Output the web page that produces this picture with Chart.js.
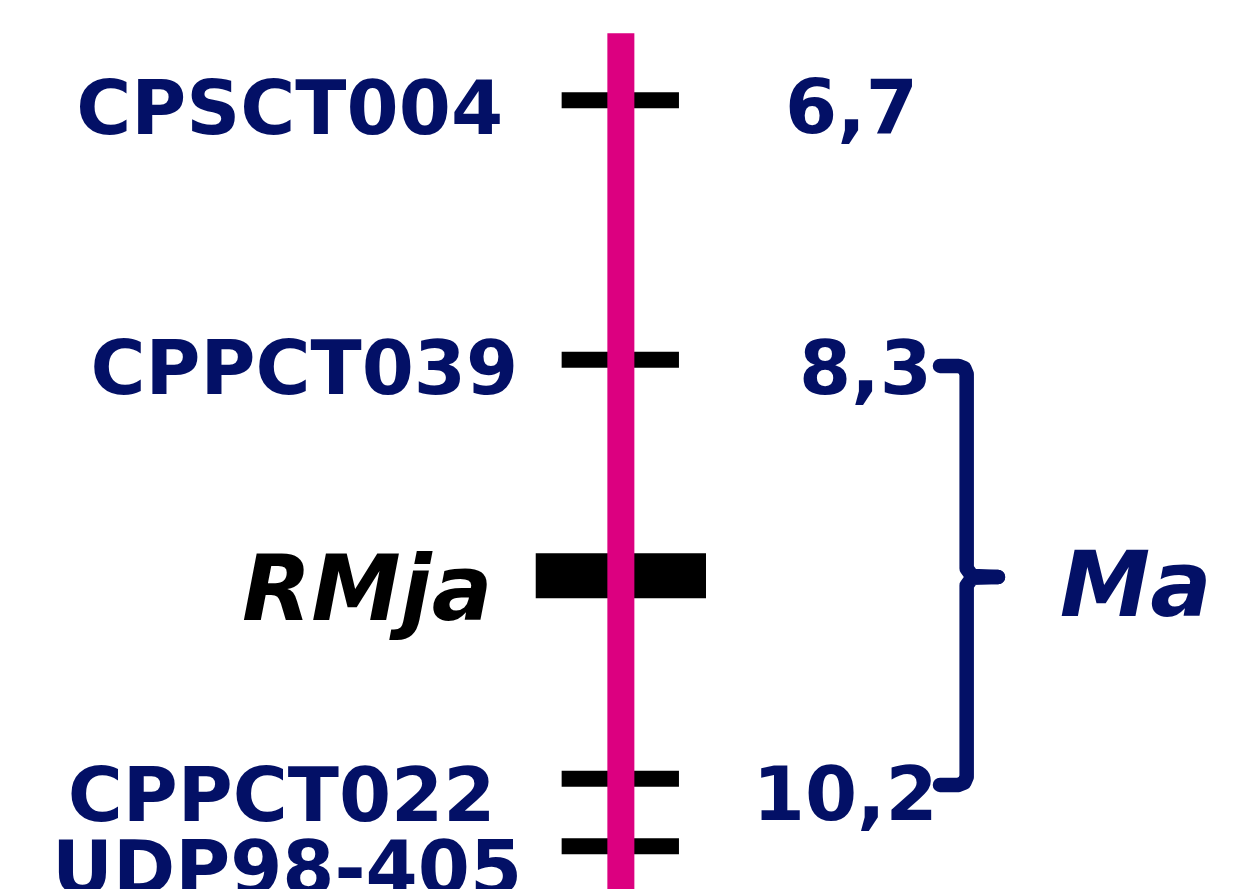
<!DOCTYPE html>
<html>
<head>
<meta charset="utf-8">
<script src="https://cdn.jsdelivr.net/npm/chart.js@4.4.1/dist/chart.umd.min.js"></script>
<style>
  html, body { margin: 0; padding: 0; background: #ffffff; }
  #wrap { width: 1252px; height: 889px; }
  canvas { display: block; }
</style>
</head>
<body>
<div id="wrap"><canvas id="c" width="1252" height="889"></canvas></div>
<script>
// ---------------- DATA ----------------
const markerNames = ['CPSCT004', 'CPPCT039', 'CPPCT022', 'UDP98-405'];
const markerCM    = ['6,7', '8,3', '10,2', ''];
// position of each marker along the drawn linkage group (0 = top, 100 = bottom)
const markerPos   = [11.28, 40.46, 87.59, 95.20];
const geneName    = 'RMja';
const genePos     = 64.77;
const qtlName     = 'Ma';
const qtlFromMarker = 1;   // CPPCT039
const qtlToMarker   = 2;   // CPPCT022
const chromTop    = 3.75;
const chromBottom = 100;

// ---------------- LAYOUT (x in 0..100 across the figure) ----------------
const NAVY = '#031066';
const PINK = '#DC0080';
const L = {
  chromX: 49.59, chromW: 27,
  tickX: [44.86, 54.23], tickW: 16,
  boxX: [42.79, 56.39], boxW: 45,
  br: { start: 75.08, spine: 77.21, nubIn: 77.64, tip: 79.71, w: 14.5, yOff: 0.70, rx: 0.64, ry: 0.90, nubH: 0.95 },
  nameInkLeft: [79.3, 93.5, 70.7, 58],
  nameBase:    [34, 34.3, 42.3, 47.5],
  cmInkLeft:   [789, 803, 760.7],
  cmBase:      [33, 34.3, 41.3],
  geneInkLeft: 243, geneBase: 44.2,
  qtlInkLeft: 1060.7, qtlBase: 39
};

// ---------------- DATASETS ----------------
const datasets = [];
datasets.push({
  data: [{x: L.chromX, y: chromTop}, {x: L.chromX, y: chromBottom}],
  borderColor: PINK, borderWidth: L.chromW, borderCapStyle: 'butt'
});
markerPos.forEach(p => {
  datasets.push({
    data: [{x: L.tickX[0], y: p}, {x: L.tickX[1], y: p}],
    borderColor: '#000000', borderWidth: L.tickW, borderCapStyle: 'butt'
  });
});
datasets.push({
  data: [{x: L.boxX[0], y: genePos}, {x: L.boxX[1], y: genePos}],
  borderColor: '#000000', borderWidth: L.boxW, borderCapStyle: 'butt'
});
const bTop = markerPos[qtlFromMarker] + L.br.yOff;
const bBot = markerPos[qtlToMarker] + L.br.yOff;
const bMid = genePos + 0.13;
const B = L.br, k = 0.293;
datasets.push({
  data: [
    {x: B.start, y: bTop},
    {x: B.spine - B.rx, y: bTop},
    {x: B.spine - B.rx * k, y: bTop + B.ry * k},
    {x: B.spine, y: bTop + B.ry},
    {x: B.spine, y: bMid - B.nubH},
    {x: B.nubIn, y: bMid - 0.1}, {x: B.tip, y: bMid}
  ],
  borderColor: NAVY, borderWidth: B.w, borderCapStyle: 'round', borderJoinStyle: 'round'
});
datasets.push({
  data: [
    {x: B.tip, y: bMid}, {x: B.nubIn, y: bMid + 0.1},
    {x: B.spine, y: bMid + B.nubH},
    {x: B.spine, y: bBot - B.ry},
    {x: B.spine - B.rx * k, y: bBot - B.ry * k},
    {x: B.spine - B.rx, y: bBot},
    {x: B.start, y: bBot}
  ],
  borderColor: NAVY, borderWidth: B.w, borderCapStyle: 'round', borderJoinStyle: 'round'
});
datasets.forEach(d => { d.showLine = true; d.pointRadius = 0; d.fill = false; d.tension = 0; d.clip = false; });

// ---------------- TEXT PLUGIN ----------------
function inkText(ctx, txt, inkLeft, baseline) {
  const m = ctx.measureText(txt);
  ctx.fillText(txt, inkLeft + m.actualBoundingBoxLeft, baseline);
}
const labelPlugin = {
  id: 'labels',
  afterDatasetsDraw(chart) {
    const ctx = chart.ctx;
    const ys = chart.scales.y;
    ctx.save();
    ctx.textAlign = 'left';
    ctx.textBaseline = 'alphabetic';
    ctx.fillStyle = NAVY;
    ctx.font = 'bold 75px "DejaVu Sans"';
    markerNames.forEach((n, i) => {
      inkText(ctx, n, L.nameInkLeft[i], ys.getPixelForValue(markerPos[i]) + L.nameBase[i]);
    });
    markerCM.forEach((t, i) => {
      if (!t) return;
      inkText(ctx, t, L.cmInkLeft[i], ys.getPixelForValue(markerPos[i]) + L.cmBase[i]);
    });
    ctx.fillStyle = '#000000';
    ctx.font = 'italic bold 90px "DejaVu Sans"';
    inkText(ctx, geneName, L.geneInkLeft, ys.getPixelForValue(genePos) + L.geneBase);
    ctx.fillStyle = NAVY;
    ctx.font = 'italic bold 91px "DejaVu Sans"';
    inkText(ctx, qtlName, L.qtlInkLeft, ys.getPixelForValue(bMid) + L.qtlBase);
    ctx.restore();
  }
};

new Chart(document.getElementById('c'), {
  type: 'scatter',
  data: { datasets },
  options: {
    responsive: false,
    animation: false,
    devicePixelRatio: 1,
    layout: { padding: 0 },
    plugins: { legend: { display: false }, tooltip: { enabled: false } },
    scales: {
      x: { type: 'linear', min: 0, max: 100, display: false },
      y: { type: 'linear', min: 0, max: 100, reverse: true, display: false }
    }
  },
  plugins: [labelPlugin]
});
</script>
</body>
</html>
